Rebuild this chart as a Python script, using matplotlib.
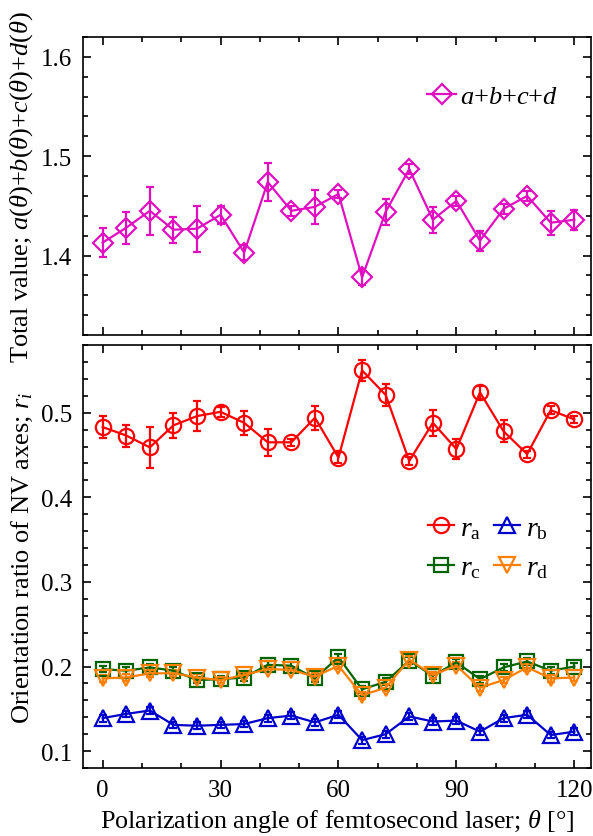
import numpy as np
import matplotlib
matplotlib.use('Agg')
import matplotlib.pyplot as plt
from matplotlib.ticker import MultipleLocator, FormatStrFormatter
from matplotlib.lines import Line2D

plt.rcParams['font.family'] = 'Liberation Serif'
plt.rcParams['mathtext.fontset'] = 'custom'
plt.rcParams['mathtext.rm'] = 'Liberation Serif'
plt.rcParams['mathtext.it'] = 'Liberation Serif:italic'
plt.rcParams['font.size'] = 18

theta = np.arange(0, 121, 6)

total = [1.413, 1.428, 1.445, 1.426, 1.427, 1.441, 1.403, 1.474, 1.445, 1.449, 1.462,
         1.378, 1.444, 1.487, 1.436, 1.455, 1.415, 1.447, 1.460, 1.433, 1.436]
total_err = [0.015, 0.016, 0.024, 0.013, 0.023, 0.009, 0.008, 0.019, 0.005, 0.017, 0.004,
             0.008, 0.013, 0.005, 0.013, 0.005, 0.010, 0.005, 0.005, 0.012, 0.010]

r_a = [0.483, 0.473, 0.459, 0.485, 0.496, 0.501, 0.488, 0.465, 0.465, 0.494, 0.447,
       0.550, 0.521, 0.443, 0.488, 0.457, 0.524, 0.478, 0.451, 0.503, 0.492]
r_a_err = [0.013, 0.013, 0.024, 0.015, 0.018, 0.006, 0.014, 0.016, 0.004, 0.014, 0.006,
           0.012, 0.013, 0.005, 0.015, 0.012, 0.008, 0.013, 0.004, 0.005, 0.004]

r_b = [0.139, 0.144, 0.148, 0.131, 0.130, 0.131, 0.132, 0.139, 0.142, 0.134, 0.143,
       0.113, 0.120, 0.141, 0.135, 0.136, 0.123, 0.139, 0.143, 0.119, 0.123]
r_c = [0.197, 0.195, 0.199, 0.195, 0.184, 0.185, 0.187, 0.202, 0.201, 0.186, 0.211,
       0.173, 0.182, 0.207, 0.189, 0.205, 0.185, 0.199, 0.206, 0.195, 0.200]
r_d = [0.186, 0.187, 0.192, 0.192, 0.187, 0.184, 0.190, 0.197, 0.196, 0.188, 0.201,
       0.166, 0.175, 0.208, 0.190, 0.201, 0.175, 0.184, 0.199, 0.186, 0.187]
small_err = [0.004] * 21

c_tot = '#e010c0'
c_a, c_b, c_c, c_d = '#ff0000', '#0000cc', '#006400', '#ff7f00'

fig = plt.figure(figsize=(5.93, 8.37), dpi=100)
ax1 = fig.add_axes([0.140, 0.5986, 0.857, 0.356])
ax2 = fig.add_axes([0.140, 0.0812, 0.857, 0.5054])

eb = dict(mfc='none', mew=1.6, lw=1.6, capsize=3, elinewidth=1.6, capthick=1.6)

ax1.errorbar(theta, total, yerr=total_err, color=c_tot, marker='D', ms=10.5, **eb)
ax1.set_ylim(1.32, 1.62)
ax1.yaxis.set_major_locator(MultipleLocator(0.1))
ax1.yaxis.set_minor_locator(MultipleLocator(0.02))
ax1.set_ylabel(r'Total value; $a(\theta)$+$b(\theta)$+$c(\theta)$+$d(\theta)$',
               fontsize=19, labelpad=4)
h1 = [Line2D([], [], color=c_tot, marker='D', ms=10.5, mfc='none', mew=1.6, lw=1.6)]
ax1.legend(h1, [r'$a$+$b$+$c$+$d$'], loc='center left', bbox_to_anchor=(0.677, 0.80),
           frameon=False, borderpad=0, borderaxespad=0, handlelength=1.1,
           handletextpad=0.15, fontsize=19)
ax1.tick_params(labelbottom=False)

ax2.errorbar(theta, r_a, yerr=r_a_err, color=c_a, marker='o', ms=11, **eb)
ax2.errorbar(theta, r_b, yerr=small_err, color=c_b, marker='^', ms=11.5, **eb)
ax2.errorbar(theta, r_c, yerr=small_err, color=c_c, marker='s', ms=9.5, **eb)
ax2.errorbar(theta, r_d, yerr=small_err, color=c_d, marker='v', ms=11.5, **eb)
ax2.set_ylim(0.08, 0.58)
ax2.yaxis.set_major_locator(MultipleLocator(0.1))
ax2.yaxis.set_minor_locator(MultipleLocator(0.02))
ax2.set_ylabel(r'Orientation ratio of NV axes; $r_i$', fontsize=19, labelpad=4)
ax2.set_xlabel(r'Polarization angle of femtosecond laser; $\theta$ [°]', fontsize=18.8,
               labelpad=4)

h2 = [Line2D([], [], color=c, marker=m, ms=s, mfc='none', mew=1.6, lw=1.6)
      for c, m, s in [(c_a, 'o', 11), (c_c, 's', 9.5), (c_b, '^', 11.5), (c_d, 'v', 11.5)]]
l2 = [r'$r_\mathrm{a}$', r'$r_\mathrm{c}$', r'$r_\mathrm{b}$', r'$r_\mathrm{d}$']
ax2.legend(h2, l2, ncol=2, loc='center left', bbox_to_anchor=(0.679, 0.52),
           frameon=False, borderpad=0, borderaxespad=0, handlelength=0.95,
           handletextpad=0.2, columnspacing=0.45, fontsize=20, labelspacing=0.5)

for ax in (ax1, ax2):
    ax.set_xlim(-5, 124.3)
    ax.xaxis.set_major_locator(MultipleLocator(30))
    ax.xaxis.set_minor_locator(MultipleLocator(10))
    ax.tick_params(which='both', direction='in', top=True, right=True, width=1.2)
    ax.tick_params(which='major', length=6, labelsize=18, pad=8)
    ax.tick_params(which='minor', length=3.5)
    for s in ax.spines.values():
        s.set_linewidth(1.2)
    ax.yaxis.set_major_formatter(FormatStrFormatter('%.1f'))
ax2.xaxis.set_major_formatter(FormatStrFormatter('%d'))

fig.align_ylabels([ax1, ax2])
fig.savefig('out.png', dpi=100)
